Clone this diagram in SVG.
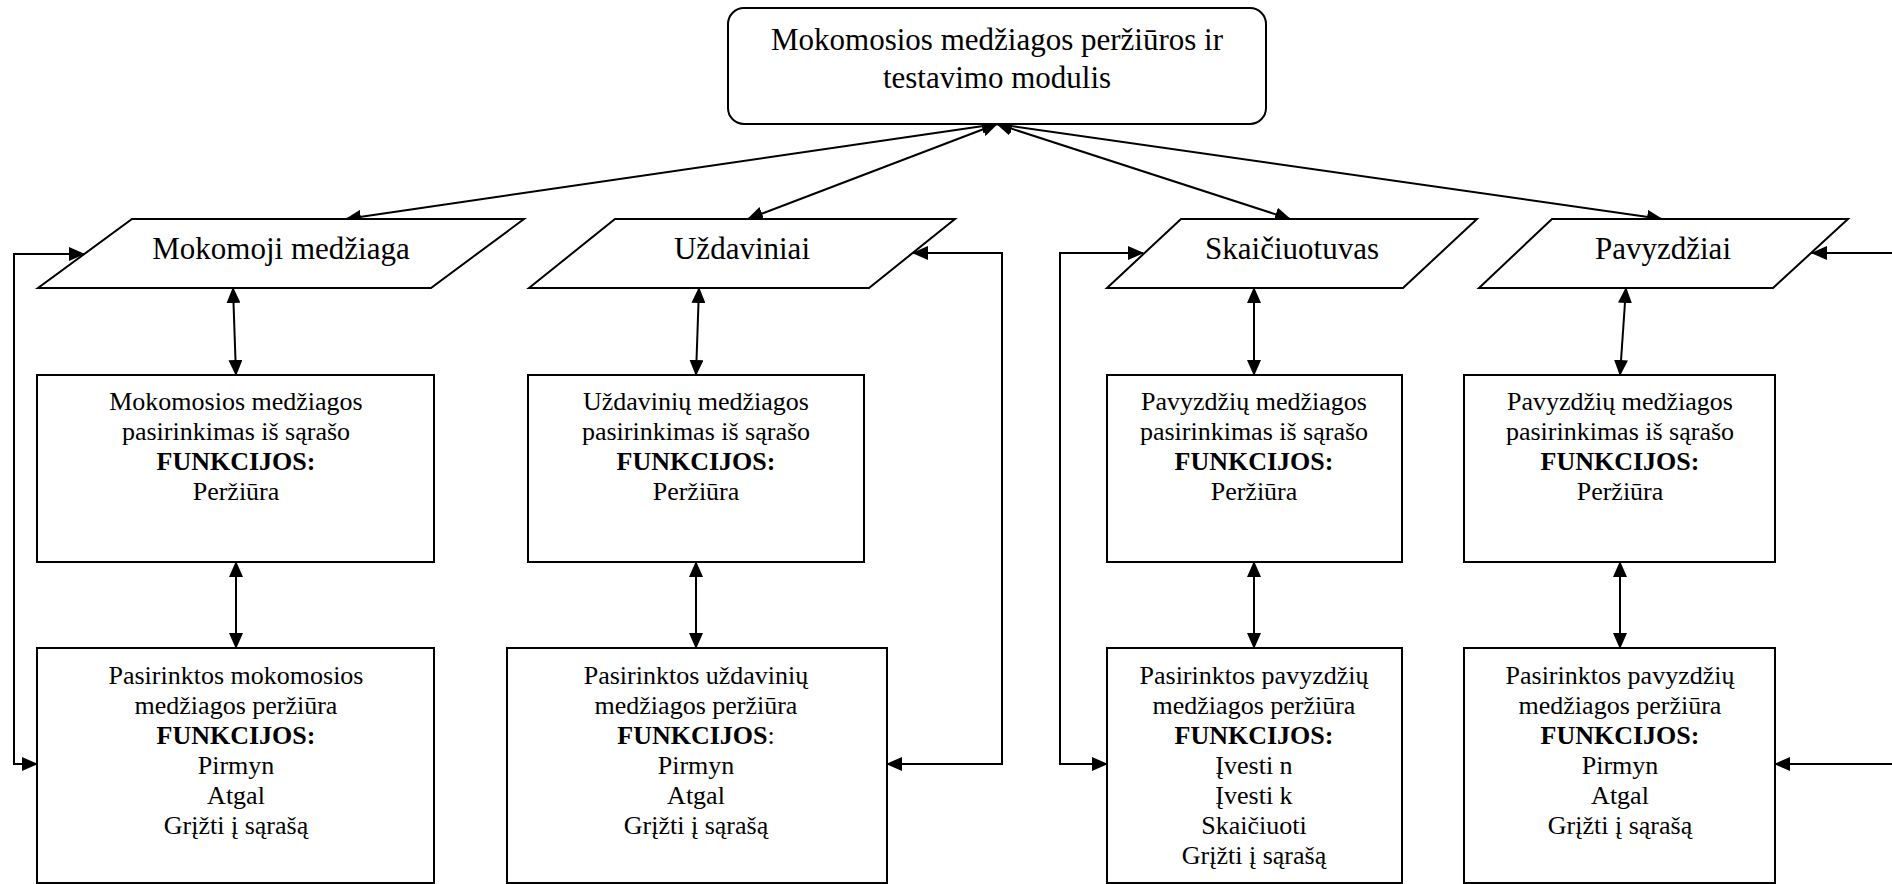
<svg xmlns="http://www.w3.org/2000/svg" width="1892" height="884" viewBox="0 0 1892 884">
<style>
.s{fill:#fff;stroke:#000;stroke-width:2}
.t{font-family:"Liberation Serif","Times New Roman",serif;fill:#000;text-anchor:middle}
.h{font-size:31px}
.b{font-size:26px}
.bold{font-weight:bold}
.c{fill:none;stroke:#000;stroke-width:2}
</style>
<defs>
<marker id="a" markerUnits="userSpaceOnUse" markerWidth="16" markerHeight="14" refX="15" refY="7" orient="auto-start-reverse" viewBox="0 0 16 14">
<path d="M0,0 L16,7 L0,14 z" fill="#000"/>
</marker>
</defs>
<rect width="1892" height="884" fill="#fff"/>
<g id="connectors">
<line class="c" x1="997" y1="124" x2="346" y2="219" marker-start="url(#a)" marker-end="url(#a)"/>
<line class="c" x1="997" y1="124" x2="748" y2="219" marker-start="url(#a)" marker-end="url(#a)"/>
<line class="c" x1="997" y1="124" x2="1290" y2="219" marker-start="url(#a)" marker-end="url(#a)"/>
<line class="c" x1="997" y1="124" x2="1662" y2="219" marker-start="url(#a)" marker-end="url(#a)"/>
<line class="c" x1="233" y1="288" x2="236" y2="375" marker-start="url(#a)" marker-end="url(#a)"/>
<line class="c" x1="236" y1="562" x2="236" y2="648" marker-start="url(#a)" marker-end="url(#a)"/>
<line class="c" x1="699" y1="288" x2="696" y2="375" marker-start="url(#a)" marker-end="url(#a)"/>
<line class="c" x1="696" y1="562" x2="696" y2="648" marker-start="url(#a)" marker-end="url(#a)"/>
<line class="c" x1="1254" y1="288" x2="1254" y2="375" marker-start="url(#a)" marker-end="url(#a)"/>
<line class="c" x1="1254" y1="562" x2="1254" y2="648" marker-start="url(#a)" marker-end="url(#a)"/>
<line class="c" x1="1626" y1="288" x2="1620" y2="375" marker-start="url(#a)" marker-end="url(#a)"/>
<line class="c" x1="1620" y1="562" x2="1620" y2="648" marker-start="url(#a)" marker-end="url(#a)"/>
<polyline class="c" points="84,254 14,254 14,764 37,764" marker-start="url(#a)" marker-end="url(#a)"/>
<polyline class="c" points="913,253 1002,253 1002,764 887,764" marker-start="url(#a)" marker-end="url(#a)"/>
<polyline class="c" points="1143,253 1060,253 1060,764 1107,764" marker-start="url(#a)" marker-end="url(#a)"/>
<line class="c" x1="1892" y1="253" x2="1812" y2="253" marker-end="url(#a)"/>
<line class="c" x1="1892" y1="764" x2="1775" y2="764" marker-end="url(#a)"/>
</g>
<g id="top">
<rect class="s" x="728" y="8" width="538" height="116" rx="16"/>
<text class="t h" x="997" y="50">Mokomosios medžiagos peržiūros ir</text>
<text class="t h" x="997" y="88">testavimo modulis</text>
</g>
<g id="p1">
<polygon class="s" points="132,219 524,219 431,288 38,288"/>
<text class="t h" x="281" y="259">Mokomoji medžiaga</text>
</g>
<g id="p2">
<polygon class="s" points="615,219 955,219 869,288 529,288"/>
<text class="t h" x="742" y="259">Uždaviniai</text>
</g>
<g id="p3">
<polygon class="s" points="1181,219 1477,219 1403,288 1107,288"/>
<text class="t h" x="1292" y="259">Skaičiuotuvas</text>
</g>
<g id="p4">
<polygon class="s" points="1552,219 1848,219 1773,288 1479,288"/>
<text class="t h" x="1663" y="259">Pavyzdžiai</text>
</g>
<g id="m1">
<rect class="s" x="37" y="375" width="397" height="187"/>
<text class="t b" x="236" y="410">Mokomosios medžiagos</text>
<text class="t b" x="236" y="440">pasirinkimas iš sąrašo</text>
<text class="t b bold" x="236" y="470">FUNKCIJOS:</text>
<text class="t b" x="236" y="500">Peržiūra</text>
</g>
<g id="m2">
<rect class="s" x="528" y="375" width="336" height="187"/>
<text class="t b" x="696" y="410">Uždavinių medžiagos</text>
<text class="t b" x="696" y="440">pasirinkimas iš sąrašo</text>
<text class="t b bold" x="696" y="470">FUNKCIJOS:</text>
<text class="t b" x="696" y="500">Peržiūra</text>
</g>
<g id="m3">
<rect class="s" x="1107" y="375" width="295" height="187"/>
<text class="t b" x="1254" y="410">Pavyzdžių medžiagos</text>
<text class="t b" x="1254" y="440">pasirinkimas iš sąrašo</text>
<text class="t b bold" x="1254" y="470">FUNKCIJOS:</text>
<text class="t b" x="1254" y="500">Peržiūra</text>
</g>
<g id="m4">
<rect class="s" x="1464" y="375" width="311" height="187"/>
<text class="t b" x="1620" y="410">Pavyzdžių medžiagos</text>
<text class="t b" x="1620" y="440">pasirinkimas iš sąrašo</text>
<text class="t b bold" x="1620" y="470">FUNKCIJOS:</text>
<text class="t b" x="1620" y="500">Peržiūra</text>
</g>
<g id="b1">
<rect class="s" x="37" y="648" width="397" height="235"/>
<text class="t b" x="236" y="684">Pasirinktos mokomosios</text>
<text class="t b" x="236" y="714">medžiagos peržiūra</text>
<text class="t b bold" x="236" y="744">FUNKCIJOS:</text>
<text class="t b" x="236" y="774">Pirmyn</text>
<text class="t b" x="236" y="804">Atgal</text>
<text class="t b" x="236" y="834">Grįžti į sąrašą</text>
</g>
<g id="b2">
<rect class="s" x="507" y="648" width="380" height="235"/>
<text class="t b" x="696" y="684">Pasirinktos uždavinių</text>
<text class="t b" x="696" y="714">medžiagos peržiūra</text>
<text class="t b" x="696" y="744"><tspan class="bold">FUNKCIJOS</tspan>:</text>
<text class="t b" x="696" y="774">Pirmyn</text>
<text class="t b" x="696" y="804">Atgal</text>
<text class="t b" x="696" y="834">Grįžti į sąrašą</text>
</g>
<g id="b3">
<rect class="s" x="1107" y="648" width="295" height="235"/>
<text class="t b" x="1254" y="684">Pasirinktos pavyzdžių</text>
<text class="t b" x="1254" y="714">medžiagos peržiūra</text>
<text class="t b bold" x="1254" y="744">FUNKCIJOS:</text>
<text class="t b" x="1254" y="774">Įvesti n</text>
<text class="t b" x="1254" y="804">Įvesti k</text>
<text class="t b" x="1254" y="834">Skaičiuoti</text>
<text class="t b" x="1254" y="864">Grįžti į sąrašą</text>
</g>
<g id="b4">
<rect class="s" x="1464" y="648" width="311" height="235"/>
<text class="t b" x="1620" y="684">Pasirinktos pavyzdžių</text>
<text class="t b" x="1620" y="714">medžiagos peržiūra</text>
<text class="t b bold" x="1620" y="744">FUNKCIJOS:</text>
<text class="t b" x="1620" y="774">Pirmyn</text>
<text class="t b" x="1620" y="804">Atgal</text>
<text class="t b" x="1620" y="834">Grįžti į sąrašą</text>
</g>
</svg>
